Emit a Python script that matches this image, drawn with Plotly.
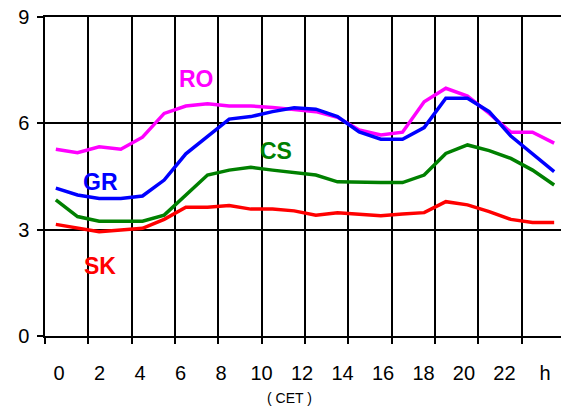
import plotly.graph_objects as go

hours = list(range(24))
ro = [5.27, 5.17, 5.34, 5.27, 5.61, 6.28, 6.49, 6.55, 6.49, 6.49, 6.45, 6.38,
      6.33, 6.17, 5.81, 5.67, 5.75, 6.61, 6.99, 6.77, 6.28, 5.75, 5.75, 5.44]
gr = [4.17, 3.98, 3.88, 3.88, 3.95, 4.40, 5.14, 5.62, 6.12, 6.19, 6.33, 6.44,
      6.40, 6.19, 5.76, 5.55, 5.55, 5.88, 6.71, 6.71, 6.33, 5.64, 5.14, 4.64]
cs = [3.84, 3.37, 3.24, 3.24, 3.24, 3.41, 3.97, 4.54, 4.68, 4.76, 4.68, 4.61,
      4.54, 4.35, 4.33, 4.33, 4.33, 4.54, 5.15, 5.39, 5.23, 5.01, 4.68, 4.26]
sk = [3.15, 3.04, 2.94, 2.99, 3.04, 3.29, 3.63, 3.63, 3.68, 3.58, 3.58, 3.53,
      3.41, 3.48, 3.44, 3.39, 3.44, 3.48, 3.79, 3.70, 3.51, 3.29, 3.20, 3.20]

series_names = ["RO", "GR", "CS", "SK"]
series_colors = ["#FF00FF", "#0000FF", "#008000", "#FF0000"]
label_pos = [(6.47, 7.25), (2.08, 4.35), (10.16, 5.22), (2.04, 1.98)]

x_tick_labels = ["0", "2", "4", "6", "8", "10", "12", "14", "16", "18", "20", "22", "h"]
y_ticks = [0, 3, 6, 9]

FONT = "Arial, Liberation Sans, sans-serif"

fig = go.Figure()
for name, vals, col in zip(series_names, [ro, gr, cs, sk], series_colors):
    fig.add_trace(go.Scatter(x=hours, y=vals, mode="lines", name=name,
                             line=dict(color=col, width=3.5), showlegend=False))

# invisible trace to activate the label axis
fig.add_trace(go.Scatter(x=[0], y=[0], xaxis="x2", mode="markers",
                         marker=dict(opacity=0), showlegend=False, hoverinfo="skip"))

for name, col, (lx, ly) in zip(series_names, series_colors, label_pos):
    fig.add_annotation(x=lx, y=ly, xref="x", yref="y", text="<b>%s</b>" % name,
                       showarrow=False, font=dict(family=FONT, size=23, color=col))

fig.add_annotation(x=0.471, y=-0.194, xref="paper", yref="paper", text="( CET )",
                   showarrow=False, yanchor="middle",
                   font=dict(family=FONT, size=14, color="black"))

grid_vals = [v - 0.5 for v in range(0, 25, 2)]

fig.update_layout(
    width=561, height=400,
    margin=dict(l=37, r=4, t=9, b=72, autoexpand=False),
    paper_bgcolor="white", plot_bgcolor="white",
    font=dict(family=FONT, color="black"),
    xaxis=dict(range=[-0.5, 23.5], tickvals=grid_vals, showticklabels=False,
               showgrid=True, gridcolor="black", gridwidth=1.5,
               ticks="outside", ticklen=6, tickcolor="black", tickwidth=1.5,
               showline=True, linecolor="black", linewidth=1.5, mirror=True,
               zeroline=False, automargin=False),
    xaxis2=dict(overlaying="x", anchor="y", side="bottom",
                range=[-0.3457, 12.494], tickvals=list(range(13)),
                ticktext=x_tick_labels, showgrid=False, showline=False,
                zeroline=False, ticks="", ticklabelstandoff=23,
                ticklabeloverflow="allow", automargin=False,
                tickfont=dict(family=FONT, size=20, color="black")),
    yaxis=dict(range=[0, 9], tickvals=y_ticks, showgrid=True,
               gridcolor="black", gridwidth=1.5,
               ticks="outside", ticklen=6, tickcolor="black", tickwidth=1.5,
               showline=True, linecolor="black", linewidth=1.5, mirror=True,
               zeroline=False, ticklabelstandoff=4, ticklabeloverflow="allow",
               automargin=False,
               tickfont=dict(family=FONT, size=20, color="black")),
)

fig.write_html("out.html")
